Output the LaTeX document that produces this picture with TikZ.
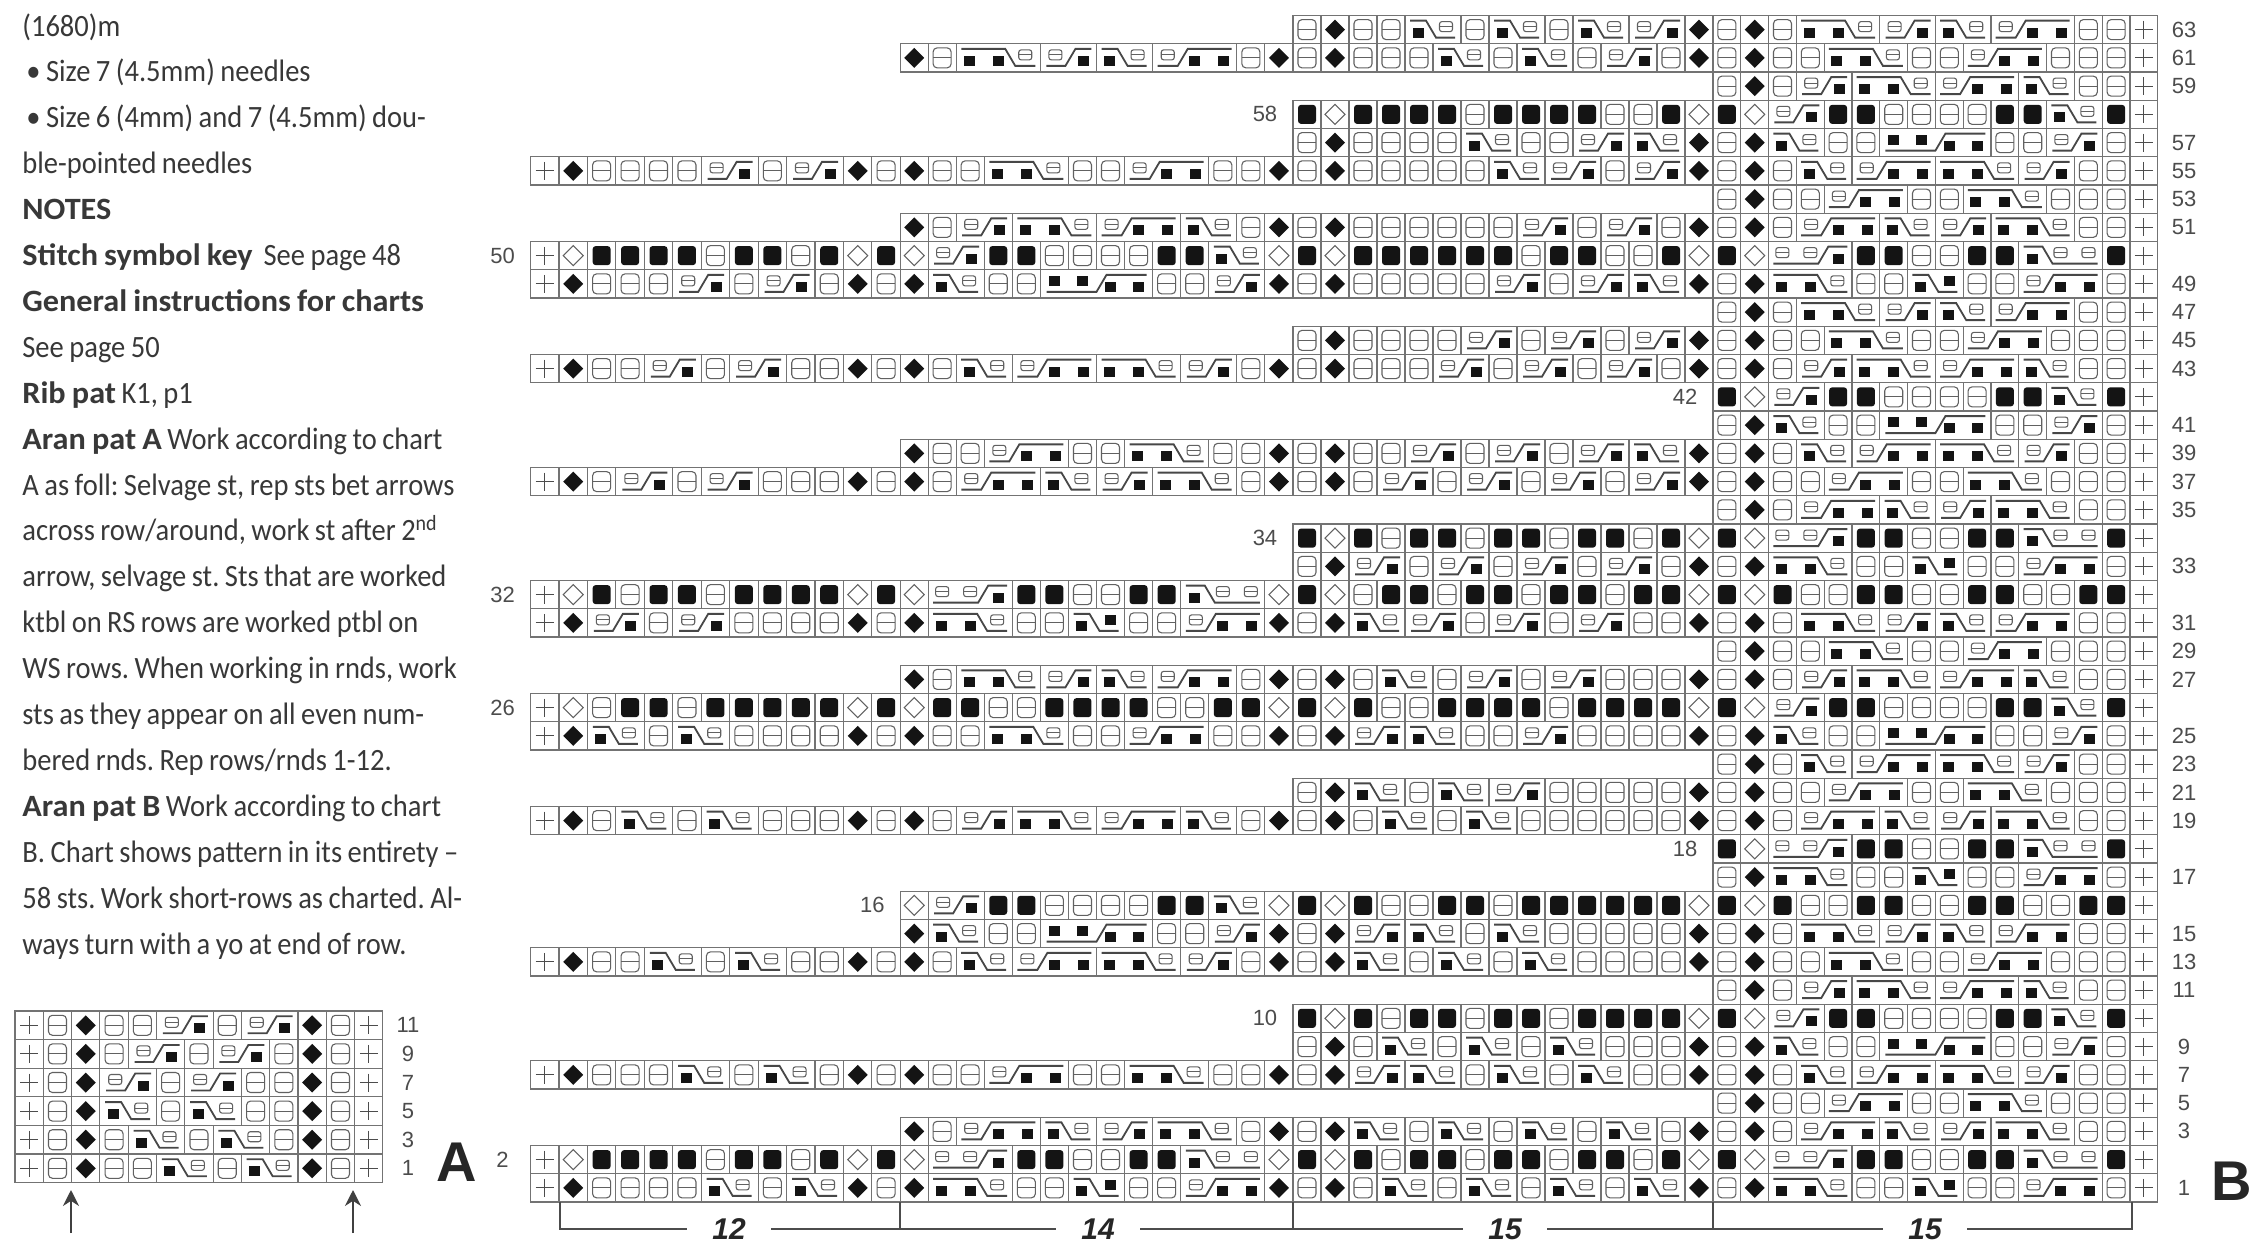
\documentclass[tikz,border=0pt]{standalone}
\usepackage{fontspec}
\setmainfont{Carlito}[UprightFeatures={FakeStretch=0.92},BoldFeatures={FakeStretch=1.04},WordSpace=0.85]
\newfontfamily\labelfont{Liberation Sans}
\usetikzlibrary{arrows.meta}

\newcount\stcol
\newcount\stpos

% column edges of chart B, the print is not quite even
\pgfmathdeclarefunction{colb}{1}{%
  \pgfmathparse{#1<13.5 ? 530.5+28.45*#1 : (#1<27.5 ? 900+28.07*(#1-13) : (#1<42.5 ? 1293+28*(#1-27) : 1713+27.8*(#1-42)))}}
\pgfmathdeclarefunction{cola}{1}{\pgfmathparse{15+28.3*#1}}

% stitch widths
\def\stwp{1}\def\stwu{1}\def\stwD{1}\def\stwO{1}\def\stwK{1}
\def\stwa{2}\def\stwb{2}\def\stwg{2}
\def\stwc{3}\def\stwd{3}\def\stwe{3}\def\stwf{3}
\def\stwh{4}

\newcommand\dotst[2]{\fill[inkfill] ({#1-5.5},{#2-5}) rectangle ({#1+5.5},{#2+5});}
\newcommand\boxst[2]{%
  \draw[purlline,rounded corners=1.2pt] ({#1-6.5},{#2-5}) rectangle ({#1+6.5},{#2+5});
  \draw[purlline] ({#1-6.5},#2) -- ({#1+6.5},#2);}

\tikzset{
  gridline/.style={draw=black!55,line width=0.55pt},
  purlline/.style={draw=black!62,line width=0.55pt},
  inkfill/.style={fill=black!92},
  cableline/.style={draw=black!72,line width=0.9pt},
  rownum/.style={font=\labelfont\fontsize{11}{11}\selectfont,text=black!70,inner sep=0pt},
  chartname/.style={font=\labelfont\bfseries\fontsize{28}{28}\selectfont,text=black!85,inner sep=0pt},
  repcount/.style={font=\labelfont\bfseries\itshape\fontsize{15}{15}\selectfont,text=black!85,inner xsep=12.5pt,inner ysep=0pt},
  bracket/.style={draw=black!70,line width=0.8pt},
  pointer/.style={-{Stealth[length=8pt,width=8pt]},black!75,line width=0.9pt},
  stp/.pic={\draw[draw=black!70,line width=0.55pt] (-9,0) -- (9,0) (0,-9) -- (0,9);},
  stu/.pic={\draw[purlline,rounded corners=2pt] (-9,-10) rectangle (9,10);
            \draw[purlline] (-9,0) -- (9,0);},
  stD/.pic={\fill[inkfill] (-10,0) -- (0,-10) -- (10,0) -- (0,10) -- cycle;},
  stO/.pic={\draw[purlline] (-10,0) -- (0,-10) -- (10,0) -- (0,10) -- cycle;},
  stK/.pic={\fill[inkfill,rounded corners=1.5pt] (-9,-9.5) rectangle (9,9.5);},
  sta/.pic={\dotst{-15}{3}\boxst{13}{-3}
            \draw[cableline] (-23,-9) -- (-7,-9) -- (3,8) -- (22,8);},
  stb/.pic={\boxst{-13}{-3}\dotst{15}{3}
            \draw[cableline] (-22,8) -- (-3,8) -- (7,-9) -- (23,-9);},
  stc/.pic={\dotst{-29}{3}\dotst{0}{3}\boxst{27}{-3}
            \draw[cableline] (-37,-9) -- (7,-9) -- (17,8) -- (37,8);},
  std/.pic={\boxst{-27}{-3}\dotst{0}{3}\dotst{29}{3}
            \draw[cableline] (-37,8) -- (-17,8) -- (-7,-9) -- (37,-9);},
  ste/.pic={\boxst{-28}{-3}\boxst{0}{-3}\dotst{28}{3}
            \draw[cableline] (-37,8) -- (8,8) -- (18,-9) -- (37,-9);},
  stf/.pic={\dotst{-28}{3}\boxst{0}{-3}\boxst{28}{-3}
            \draw[cableline] (-37,-9) -- (-18,-9) -- (-8,8) -- (37,8);},
  stg/.pic={\dotst{-15}{3}\dotst{14}{-3}
            \draw[cableline] (-23,-9) -- (-7,-9) -- (3,8) -- (22,8);},
  sth/.pic={\dotst{-42}{-3}\dotst{-14}{-3}\dotst{14}{3}\dotst{42}{3}
            \draw[cableline] (-50,8) -- (0,8) -- (10,-9) -- (50,-9);}
}

% start edge, row number, stitches
\newcommand\chartrow[3]{%
  \global\stcol=#1\relax
  \pgfmathsetmacro\ya{\rowtop+\rowh*\the\stpos}
  \pgfmathsetmacro\ym{\ya+\rowh/2}
  \pgfmathsetmacro\xs{\colfn(#1)}
  \ifodd#2\relax
    \node[rownum] (\chartid#2) at (\oddx,\ym) {#2};
  \else
    \node[rownum] (\chartid#2) at (\xs-28,\ym) {#2};
  \fi
  \foreach \s in {#3}{
    \pgfmathsetmacro\xa{\colfn(\the\stcol)}
    \global\advance\stcol by \csname stw\s\endcsname\relax
    \pgfmathsetmacro\xb{\colfn(\the\stcol)}
    \draw[gridline] (\xa,\ya) rectangle (\xb,\ya+\rowh);
    \pgfmathsetmacro\xm{(\xa+\xb)/2}
    \pic at (\xm,\ym) {st\s};
  }
  \global\advance\stpos by 1\relax
}

\begin{document}
\begin{tikzpicture}[x=0.5pt,y=-0.5pt]
    \useasboundingbox (0,0) rectangle (2250,1245);

    % notes column
    \node[anchor=north west,inner sep=0pt,align=left,text=black!78,
          font=\fontsize{15.5}{22.95}\selectfont\frenchspacing] (notes) at (22,13) {%
        (1680)m\\
        \hspace*{2pt}•\ Size 7 (4.5mm) needles\\
        \hspace*{2pt}•\ Size 6 (4mm) and 7 (4.5mm) dou-\\
        ble-pointed needles\\
        \textbf{NOTES}\\
        \textbf{Stitch symbol key}\ \ See page 48\\
        \textbf{General instructions for charts}\\
        See page 50\\
        \textbf{Rib pat} K1, p1\\
        \textbf{Aran pat A} Work according to chart\\
        A as foll: Selvage st, rep sts bet arrows\\
        across row/around, work st after 2\textsuperscript{nd}\\
        arrow, selvage st. Sts that are worked\\
        ktbl on RS rows are worked ptbl on\\
        WS rows. When working in rnds, work\\
        sts as they appear on all even num-\\
        bered rnds. Rep rows/rnds 1-12.\\
        \textbf{Aran pat B} Work according to chart\\
        B. Chart shows pattern in its entirety –\\
        58 sts. Work short-rows as charted. Al-\\
        ways turn with a yo at end of row.};

    % chart A
    \def\colfn{cola}\def\rowtop{1011}\def\rowh{28.6}\def\oddx{408}\def\chartid{ra}
    \global\stpos=0
    \chartrow{0}{11}{p,u,D,u,u,b,u,b,D,u,p}
    \chartrow{0}{9}{p,u,D,u,b,u,b,u,D,u,p}
    \chartrow{0}{7}{p,u,D,b,u,b,u,u,D,u,p}
    \chartrow{0}{5}{p,u,D,a,u,a,u,u,D,u,p}
    \chartrow{0}{3}{p,u,D,u,a,u,a,u,D,u,p}
    \chartrow{0}{1}{p,u,D,u,u,a,u,a,D,u,p}
    \node[chartname] (nameA) at (457,1162) {A};

    \coordinate (tailL) at (71,1233);
    \coordinate (headL) at (71,1190);
    \coordinate (tailR) at (353,1233);
    \coordinate (headR) at (353,1190);
    \draw[pointer] (tailL) -- (headL);
    \draw[pointer] (tailR) -- (headR);

    % chart B
    \def\colfn{colb}\def\rowtop{15.5}\def\rowh{28.25}\def\oddx{2184}\def\chartid{rb}
    \global\stpos=0
    \chartrow{27}{63}{u,D,u,u,a,u,a,u,a,b,D,u,D,u,c,b,a,d,u,u,p}
    \chartrow{13}{61}{D,u,c,b,a,d,u,D,u,D,u,u,u,a,u,a,u,b,u,D,u,D,u,u,c,u,u,d,u,u,u,p}
    \chartrow{42}{59}{u,D,u,b,c,d,a,u,u,p}
    \chartrow{27}{58}{K,O,K,K,K,K,u,K,K,K,K,u,u,K,O,K,O,b,K,K,u,u,u,u,K,K,a,K,p}
    \chartrow{27}{57}{u,D,u,u,u,u,a,u,u,b,a,D,u,D,a,u,u,h,u,u,b,u,p}
    \chartrow{0}{55}{p,D,u,u,u,u,b,u,b,D,u,D,u,u,c,u,u,d,u,u,D,u,D,u,u,u,u,u,a,b,u,b,D,u,D,u,a,d,c,b,u,u,p}
    \chartrow{42}{53}{u,D,u,u,d,u,u,c,u,u,u,p}
    \chartrow{13}{51}{D,u,b,c,d,a,u,D,u,D,u,u,u,u,u,u,b,u,b,u,D,u,D,u,d,a,b,c,u,u,p}
    \chartrow{0}{50}{p,O,K,K,K,K,u,K,K,u,K,O,K,O,b,K,K,u,u,u,u,K,K,a,O,K,O,K,K,K,K,K,K,u,K,K,u,u,K,O,K,O,e,K,K,u,u,K,K,f,K,p}
    \chartrow{0}{49}{p,D,u,u,u,b,u,b,u,D,u,D,a,u,u,h,u,u,b,D,u,D,u,u,u,u,u,b,u,b,a,D,u,D,c,u,u,g,u,u,d,u,p}
    \chartrow{42}{47}{u,D,u,c,b,a,d,u,u,p}
    \chartrow{27}{45}{u,D,u,u,u,u,b,u,b,u,b,D,u,D,u,u,c,u,u,d,u,u,u,p}
    \chartrow{0}{43}{p,D,u,u,b,u,b,u,u,D,u,D,u,a,d,c,b,u,D,u,D,u,u,u,b,u,b,u,b,u,D,u,D,u,b,c,d,a,u,u,p}
    \chartrow{42}{42}{K,O,b,K,K,u,u,u,u,K,K,a,K,p}
    \chartrow{42}{41}{u,D,a,u,u,h,u,u,b,u,p}
    \chartrow{13}{39}{D,u,u,d,u,u,c,u,u,D,u,D,u,u,b,u,b,u,b,a,D,u,D,u,a,d,c,b,u,u,p}
    \chartrow{0}{37}{p,D,u,b,u,b,u,u,u,D,u,D,u,d,a,b,c,u,D,u,D,u,b,u,b,u,b,u,b,D,u,D,u,u,d,u,u,c,u,u,u,p}
    \chartrow{42}{35}{u,D,u,d,a,b,c,u,u,p}
    \chartrow{27}{34}{K,O,K,u,K,K,u,K,K,u,K,K,u,K,O,K,O,e,K,K,u,u,K,K,f,K,p}
    \chartrow{27}{33}{u,D,b,u,b,u,b,u,b,u,D,u,D,c,u,u,g,u,u,d,u,p}
    \chartrow{0}{32}{p,O,K,u,K,K,u,K,K,K,K,O,K,O,e,K,K,u,u,K,K,f,O,K,O,u,K,K,u,K,K,u,K,K,u,K,K,O,K,O,K,u,u,K,K,u,u,K,K,u,u,K,K,p}
    \chartrow{0}{31}{p,D,b,u,b,u,u,u,u,D,u,D,c,u,u,g,u,u,d,D,u,D,a,b,u,b,u,b,u,u,D,u,D,u,c,b,a,d,u,u,p}
    \chartrow{42}{29}{u,D,u,u,c,u,u,d,u,u,u,p}
    \chartrow{13}{27}{D,u,c,b,a,d,u,D,u,D,u,a,u,b,u,b,u,u,u,D,u,D,u,b,c,d,a,u,u,p}
    \chartrow{0}{26}{p,O,u,K,K,u,K,K,K,K,K,O,K,O,K,K,u,u,K,K,K,K,u,u,K,K,O,K,O,K,u,u,K,K,K,K,u,K,K,K,K,O,K,O,b,K,K,u,u,u,u,K,K,a,K,p}
    \chartrow{0}{25}{p,D,a,u,a,u,u,u,u,D,u,D,u,u,c,u,u,d,u,u,D,u,D,b,a,u,u,b,u,u,u,u,D,u,D,a,u,u,h,u,u,b,u,p}
    \chartrow{42}{23}{u,D,u,a,d,c,b,u,u,p}
    \chartrow{27}{21}{u,D,a,u,a,b,u,u,u,u,u,D,u,D,u,u,d,u,u,c,u,u,u,p}
    \chartrow{0}{19}{p,D,u,a,u,a,u,u,u,D,u,D,u,b,c,d,a,u,D,u,D,u,a,u,a,u,u,u,u,u,u,D,u,D,u,d,a,b,c,u,u,p}
    \chartrow{42}{18}{K,O,e,K,K,u,u,K,K,f,K,p}
    \chartrow{42}{17}{u,D,c,u,u,g,u,u,d,u,p}
    \chartrow{13}{16}{O,b,K,K,u,u,u,u,K,K,a,O,K,O,K,u,u,K,K,u,K,K,K,K,K,K,O,K,O,K,u,u,K,K,u,u,K,K,u,u,K,K,p}
    \chartrow{13}{15}{D,a,u,u,h,u,u,b,D,u,D,b,a,u,a,u,u,u,u,u,D,u,D,u,c,b,a,d,u,u,p}
    \chartrow{0}{13}{p,D,u,u,a,u,a,u,u,D,u,D,u,a,d,c,b,u,D,u,D,a,u,a,u,a,u,u,u,u,D,u,D,u,u,c,u,u,d,u,u,u,p}
    \chartrow{42}{11}{u,D,u,b,c,d,a,u,u,p}
    \chartrow{27}{10}{K,O,K,u,K,K,u,K,K,u,K,K,K,K,O,K,O,b,K,K,u,u,u,u,K,K,a,K,p}
    \chartrow{27}{9}{u,D,u,a,u,a,u,a,u,u,u,D,u,D,a,u,u,h,u,u,b,u,p}
    \chartrow{0}{7}{p,D,u,u,u,a,u,a,u,D,u,D,u,u,d,u,u,c,u,u,D,u,D,b,a,u,a,u,a,u,u,D,u,D,u,a,d,c,b,u,u,p}
    \chartrow{42}{5}{u,D,u,u,d,u,u,c,u,u,u,p}
    \chartrow{13}{3}{D,u,d,a,b,c,u,D,u,D,a,u,a,u,a,u,a,u,D,u,D,u,d,a,b,c,u,u,p}
    \chartrow{0}{2}{p,O,K,K,K,K,u,K,K,u,K,O,K,O,e,K,K,u,u,K,K,f,O,K,O,K,u,K,K,u,K,K,u,K,K,u,K,O,K,O,e,K,K,u,u,K,K,f,K,p}
    \chartrow{0}{1}{p,D,u,u,u,u,a,u,a,D,u,D,c,u,u,g,u,u,d,D,u,D,u,a,u,a,u,a,u,a,D,u,D,c,u,u,g,u,u,d,u,p}
    \node[chartname] (nameB) at (2232,1181) {B};

    % repeat bracket below chart B
    \node[repcount] (rep12) at (729,1229) {12};
    \node[repcount] (rep14) at (1098,1229) {14};
    \node[repcount] (rep15a) at (1505,1229) {15};
    \node[repcount] (rep15b) at (1925,1229) {15};
    \coordinate (tick0) at (560,1202);
    \coordinate (tick1) at (900,1202);
    \coordinate (tick2) at (1293,1202);
    \coordinate (tick3) at (1713,1202);
    \coordinate (tick4) at (2132,1202);
    \draw[bracket] (tick0) |- (rep12.west);
    \draw[bracket] (rep12.east) -- (rep14.west);
    \draw[bracket] (rep14.east) -- (rep15a.west);
    \draw[bracket] (rep15a.east) -- (rep15b.west);
    \draw[bracket] (tick4) |- (rep15b.east);
    \draw[bracket] (tick1) -- (tick1 |- rep12);
    \draw[bracket] (tick2) -- (tick2 |- rep12);
    \draw[bracket] (tick3) -- (tick3 |- rep12);
\end{tikzpicture}
\end{document}
